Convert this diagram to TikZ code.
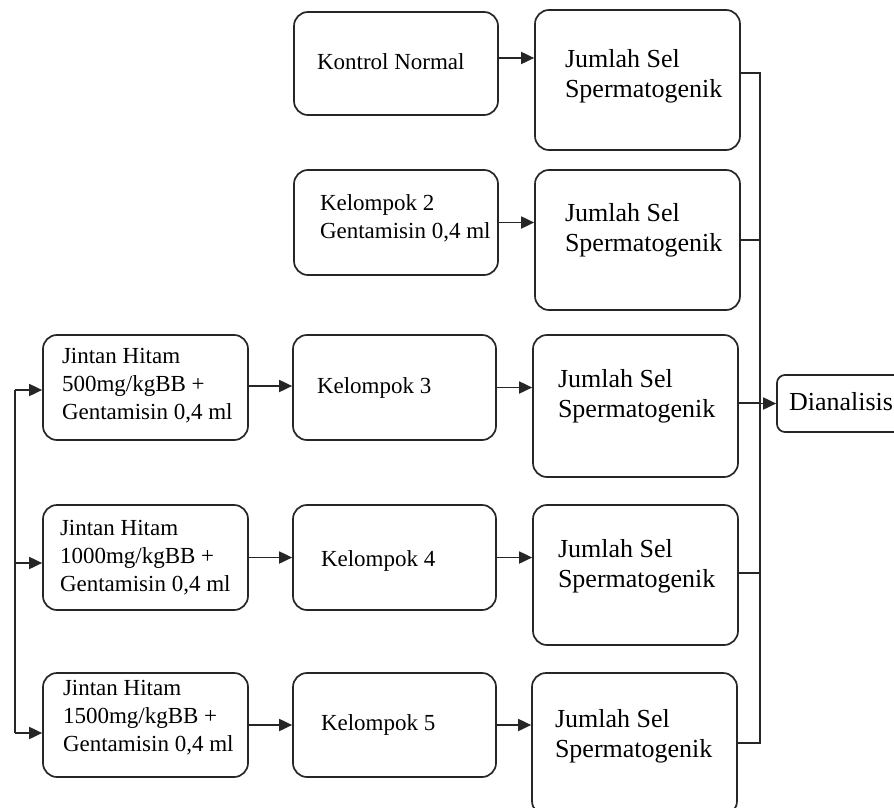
\documentclass[tikz,border=0pt]{standalone}
\usepackage{fontspec}
\setmainfont{Liberation Serif}
\usetikzlibrary{arrows.meta}
% W, H, top space, left space, lines
\newcommand\inbox[5]{\parbox[c][#2][t]{#1}{\vspace*{#3}\noindent\hspace*{#4}\begin{tabular}[t]{@{}l@{}}#5\end{tabular}}}
\tikzset{
  box/.style={draw=black!85, line width=1.7pt, rounded corners=14pt, inner sep=0pt, fill=white},
  sm/.style={font=\fontsize{23}{28}\selectfont},
  bg/.style={font=\fontsize{26}{30}\selectfont},
  ln/.style={draw=black!85, line width=1.8pt},
  arr/.style={ln, -{Triangle[length=13pt,width=12pt]}}
}
\begin{document}
\begin{tikzpicture}[x=1pt,y=-1pt]
\useasboundingbox (0,0) rectangle (894,808);
\fill[white] (0,0) rectangle (894,808);
% top column
\node[box,sm] (k1) at (396,63.5) {\inbox{204pt}{103pt}{38.4pt}{23pt}{Kontrol Normal}};
\node[box,sm] (k2) at (396,222.5) {\inbox{204pt}{105pt}{20.4pt}{26pt}{Kelompok 2\\Gentamisin 0,4 ml}};
% middle column
\node[box,sm] (k3) at (394.5,387.5) {\inbox{203pt}{105pt}{38.4pt}{24pt}{Kelompok 3}};
\node[box,sm] (k4) at (394.5,557.5) {\inbox{203pt}{105pt}{41.4pt}{28pt}{Kelompok 4}};
\node[box,sm] (k5) at (394.5,725) {\inbox{203pt}{104pt}{37.4pt}{28pt}{Kelompok 5}};
% left column
\node[box,sm] (a1) at (145.5,387.5) {\inbox{205pt}{105pt}{8.4pt}{19pt}{Jintan Hitam\\500mg/kgBB +\\Gentamisin 0,4 ml}};
\node[box,sm] (a2) at (145.5,557.5) {\inbox{205pt}{105pt}{10.4pt}{17pt}{Jintan Hitam\\1000mg/kgBB +\\Gentamisin 0,4 ml}};
\node[box,sm] (a3) at (145.5,725) {\inbox{205pt}{104pt}{2.4pt}{20pt}{Jintan Hitam\\1500mg/kgBB +\\Gentamisin 0,4 ml}};
% result column
\node[box,bg] (j1) at (637.5,80) {\inbox{205pt}{140pt}{36pt}{30pt}{Jumlah Sel\\Spermatogenik}};
\node[box,bg] (j2) at (637.5,240) {\inbox{205pt}{140pt}{30pt}{30pt}{Jumlah Sel\\Spermatogenik}};
\node[box,bg] (j3) at (635.5,406) {\inbox{205pt}{142pt}{31pt}{25pt}{Jumlah Sel\\Spermatogenik}};
\node[box,bg] (j4) at (635.5,575) {\inbox{205pt}{140pt}{31pt}{25pt}{Jumlah Sel\\Spermatogenik}};
\node[box,bg] (j5) at (634.5,744) {\inbox{205pt}{142pt}{33pt}{23pt}{Jumlah Sel\\Spermatogenik}};
% analysis
\node[box,bg,rounded corners=8pt] (d) at (843.5,403.5) {\inbox{133pt}{57pt}{14pt}{12pt}{Dianalisis}};
% arrows into results
\draw[arr] (k1.east |- 0,58) -- (j1.west |- 0,58);
\draw[arr] (k2.east) -- (k2.east -| j2.west);
\draw[arr] (k3.east) -- (k3.east -| j3.west);
\draw[arr] (k4.east) -- (k4.east -| j4.west);
\draw[arr] (k5.east) -- (k5.east -| j5.west);
% left to middle
\draw[arr] (a1.east |- 0,386) -- (k3.west |- 0,386);
\draw[arr] (a2.east) -- (a2.east -| k4.west);
\draw[arr] (a3.east) -- (a3.east -| k5.west);
% left bus
\coordinate (lt) at (15,390);
\coordinate (lb) at (15,733);
\draw[ln] (lt) -- (lb);
\draw[arr] (lt) -- (a1.west |- lt);
\draw[arr] (15,563) -- (a2.west |- 0,563);
\draw[arr] (lb) -- (a3.west |- lb);
% right bus
\coordinate (rt) at (760,73);
\coordinate (rb) at (760,743);
\coordinate (rm) at (760,403.5);
\draw[ln] (j1.east |- rt) -- (rt) -- (rb) -- (j5.east |- rb);
\draw[ln] (j2.east) -- (j2.east -| rt);
\draw[ln] (j3.east |- 0,403) -- (760,403);
\draw[ln] (j4.east |- 0,573) -- (760,573);
\draw[arr] (rm) -- (d.west);
\end{tikzpicture}
\end{document}
